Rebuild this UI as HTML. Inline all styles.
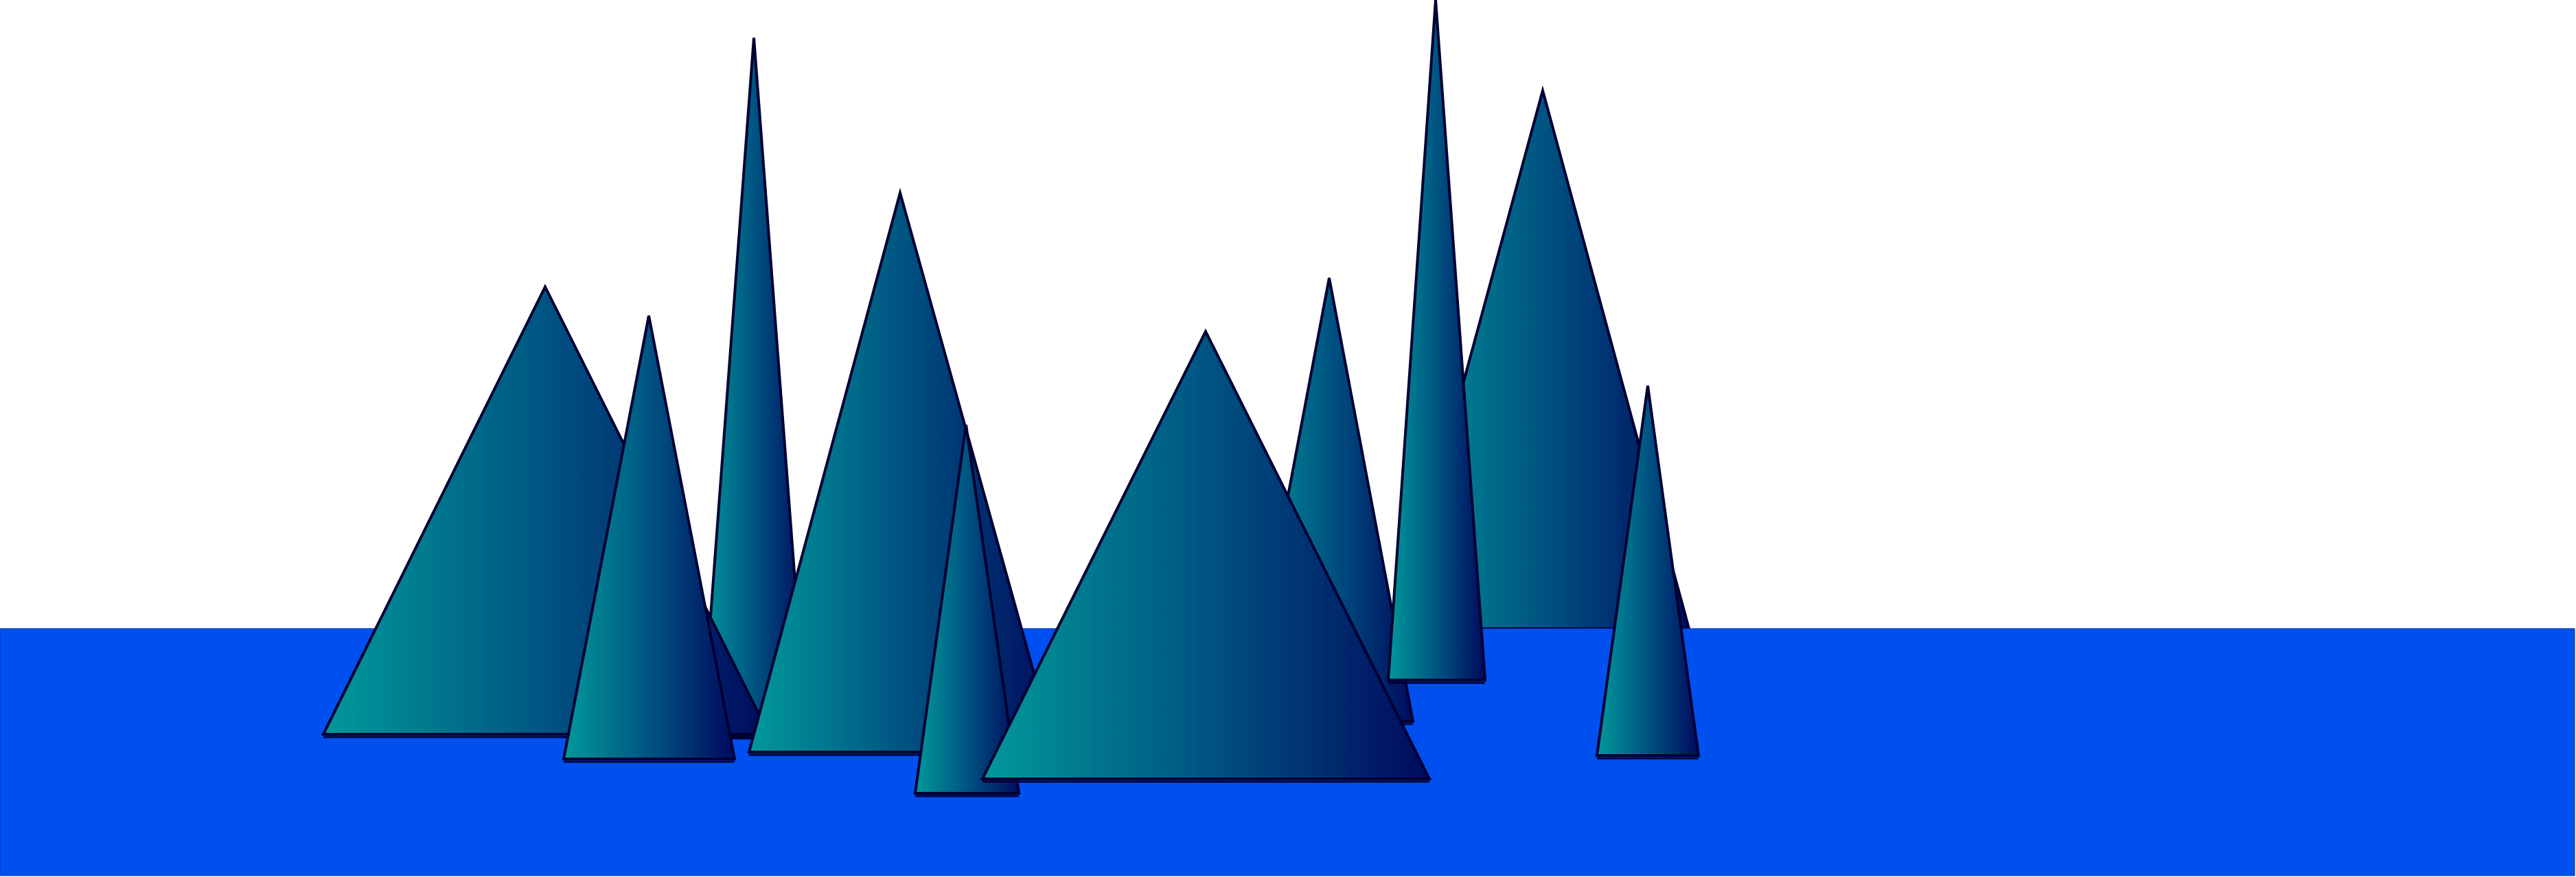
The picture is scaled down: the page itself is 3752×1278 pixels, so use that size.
<!DOCTYPE html>
<html>
<head>
<meta charset="utf-8">
<style>
html,body{margin:0;padding:0;background:#fff;}
svg{display:block;}
</style>
</head>
<body>
<svg width="3752" height="1278" viewBox="0 0 3752 1278" xmlns="http://www.w3.org/2000/svg">
<defs>
<linearGradient id="sail" x1="0" y1="0" x2="1" y2="0">
<stop offset="0" stop-color="#00999a"/>
<stop offset="0.5" stop-color="#005482"/>
<stop offset="1" stop-color="#000a5e"/>
</linearGradient>
</defs>
<g id="scene" stroke="#000033" stroke-width="4" stroke-linejoin="miter" fill="url(#sail)"></g>
</svg>
<script>
// apex x, apex y, base y, left x, right x (in draw order)
const sailNames = ["sail-back-right","sea","sail-tall-left","sail-left-large","sail-left-small","sail-center-large","sail-center-small","sail-mid-narrow","sail-tallest","sail-front-center","sail-right-small"];
const apexX = [2247,0,1098,794,945,1311,1407,1936,2091,1756,2400];
const apexY = [132,0,55,418,460,281,619,405,0,483,562];
const baseY = [916,0,1072,1070,1106,1096,1156,1051,991,1135,1101];
const leftX = [2034,0,1022,471,821,1091,1333,1814,2022,1431,2326];
const rightX = [2460,0,1175,1120,1070,1538,1484,2058,2163,2082,2474];
const g = document.getElementById('scene');
const NS = "http://www.w3.org/2000/svg";
for (let i = 0; i < sailNames.length; i++) {
  if (sailNames[i] === "sea") {
    const r = document.createElementNS(NS, 'rect');
    r.setAttribute('x', 0); r.setAttribute('y', 916);
    r.setAttribute('width', 3750); r.setAttribute('height', 1360 - 916 - 84);
    r.setAttribute('fill', '#0050f0'); r.setAttribute('stroke', '#0030a0'); r.setAttribute('stroke-width', 1);
    
    
    g.appendChild(r);
    continue;
  }
  const sh = document.createElementNS(NS, 'line');
  sh.setAttribute('x1', leftX[i]); sh.setAttribute('x2', rightX[i]);
  sh.setAttribute('y1', baseY[i] + 4); sh.setAttribute('y2', baseY[i] + 4);
  sh.setAttribute('stroke', '#000033'); sh.setAttribute('stroke-width', 3);
  
  
  g.appendChild(sh);
  const p = document.createElementNS(NS, 'polygon');
  p.setAttribute('points', `${apexX[i]},${apexY[i]} ${rightX[i]},${baseY[i]} ${leftX[i]},${baseY[i]}`);
  
  
  g.appendChild(p);
}
</script>
</body>
</html>
